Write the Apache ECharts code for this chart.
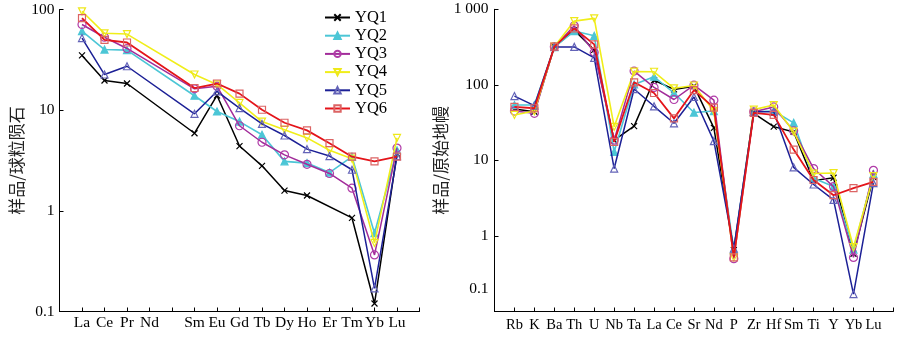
<!DOCTYPE html>
<html><head><meta charset="utf-8">
<script src="https://cdn.jsdelivr.net/npm/echarts@6/dist/echarts.min.js"></script>
<style>html,body{margin:0;padding:0;background:#fff}#c{width:900px;height:361px}</style>
</head><body><div id="c"></div>
<script>
// Left chart: chondrite-normalised REE (blank slots at both ends and for Pm)
const reeCats = ['', 'La','Ce','Pr','Nd',' ','Sm','Eu','Gd','Tb','Dy','Ho','Er','Tm','Yb','Lu','  '];
const reeYQ1 = [null,35,19.7,18.4,null,null,5.9,14.0,4.4,2.8,1.59,1.42,null,0.85,0.12,3.7,null];
const reeYQ2 = [null,61,40,39.5,null,null,13.9,9.7,7.7,5.7,3.1,2.98,2.4,3.45,0.6,4.0,null];
const reeYQ3 = [null,71,53,41,null,null,16.3,17.3,7.0,4.8,3.6,2.9,2.35,1.68,0.365,4.2,null];
const reeYQ4 = [null,96,58,57,null,null,22.6,18.0,11.8,7.7,6.4,5.3,4.0,3.3,0.48,5.3,null];
const reeYQ5 = [null,52,22.6,27.3,null,null,9.2,15.4,10.5,7.3,5.6,4.1,3.5,2.56,0.17,3.5,null];
const reeYQ6 = [null,82,50,47,null,null,16.6,18.4,14.6,10.1,7.5,6.3,4.7,3.45,3.1,3.45,null];

// Right chart: primitive-mantle-normalised spider diagram
const pmCats = ['', 'Rb','K','Ba','Th','U','Nb','Ta','La','Ce','Sr','Nd','P','Zr','Hf','Sm','Ti','Y','Yb','Lu','  '];
const pmYQ1 = [null,48,44,318,530,290,18.5,28.4,115,87,96,27,0.65,42,28,23.8,5.4,5.9,0.58,6.0,null];
const pmYQ2 = [null,54,54,315,515,446,13,101,128,78,43,45,0.65,44,45,31.4,5.8,4.5,0.66,6.6,null];
const pmYQ3 = [null,45,42,320,604,269,18.5,152,92.5,64,99,62.7,0.5,44,51,24.6,7.8,4.5,0.52,7.4,null];
const pmYQ4 = [null,40,45,320,698,758,27.8,150,149,90,98,45,0.52,47,54,24,6.7,6.8,0.71,6.2,null];
const pmYQ5 = [null,71,53,318,318,228,7.8,88,52,31,69,18,0.68,44,44,8.1,4.8,3.0,0.17,5.0,null];
const pmYQ6 = [null,51,49,320,558,343,17.6,108,78,36,85,50,0.52,42.6,40,13.9,5.5,3.46,4.3,5.2,null];

const names = ['YQ1','YQ2','YQ3','YQ4','YQ5','YQ6'];
const leftTicks = ['0.1','1','10','100'];
const rightTicks = ['0.1','1','10','100','1 000'];

const serif = 'Liberation Serif';
const styles = [
  {line:'#000000', symbol:'path://M0,0L10,10M10,0L0,10', fill:'rgba(0,0,0,0)', border:'#000000', size:6, lw:1.5},
  {line:'#4cc6d6', symbol:'triangle', fill:'#4cc6d6', border:'#4cc6d6', size:7, lw:1.6},
  {line:'#a22c9a', symbol:'circle', fill:'rgba(0,0,0,0)', border:'#b03ca8', size:8, lw:1.5},
  {line:'#f0ee1a', symbol:'path://M0,0L10,0L5,10Z', fill:'rgba(0,0,0,0)', border:'#eee81a', size:7, lw:1.6},
  {line:'#1c2096', symbol:'triangle', fill:'rgba(0,0,0,0)', border:'#6464b8', size:7, lw:1.5},
  {line:'#e4141a', symbol:'rect', fill:'rgba(0,0,0,0)', border:'#dc6464', size:7, lw:1.8}
];
const reeData = [reeYQ1,reeYQ2,reeYQ3,reeYQ4,reeYQ5,reeYQ6];
const pmData = [pmYQ1,pmYQ2,pmYQ3,pmYQ4,pmYQ5,pmYQ6];

function mkSeries(data, i, xi, yi) {
  const s = styles[i];
  return {
    name: names[i], type:'line', xAxisIndex:xi, yAxisIndex:yi, data:data,
    connectNulls:true, symbol:s.symbol, symbolSize:s.size, showAllSymbol:true,
    lineStyle:{color:s.line, width:s.lw},
    itemStyle:{color:s.fill, borderColor:s.border, borderWidth:1.2},
    emphasis:{disabled:true}, animation:false, z: 2 + i
  };
}
const series = [];
reeData.forEach((d,i)=>series.push(mkSeries(d,i,0,0)));
pmData.forEach((d,i)=>series.push(mkSeries(d,i,1,1)));

function lbl(size){ return {color:'#000', fontFamily:serif, fontSize:size}; }
function fmtTick(list){
  return function(v){
    for (const t of list){ const n = parseFloat(t.replace(/\s/g,'')); if (Math.abs(v-n) < n*1e-6) return t; }
    return '';
  };
}

const option = {
  backgroundColor:'#fff',
  animation:false,
  legend:{
    data:names, orient:'vertical', left:324, top:9, padding:0, itemWidth:25, itemHeight:8, itemGap:1.2,
    selectedMode:false,
    textStyle:{fontFamily:serif, fontSize:16.5, color:'#000', lineHeight:16}
  },
  grid:[
    {left:59.5, top:9.5, width:360, height:302},
    {left:494.5, top:9.3, width:399, height:302.2}
  ],
  xAxis:[
    {type:'category', gridIndex:0, data:reeCats, boundaryGap:false,
     axisLine:{lineStyle:{color:'#000', width:1}},
     axisTick:{inside:true, length:4, interval:0, lineStyle:{color:'#000'}},
     axisLabel:Object.assign({interval:0, margin:3}, lbl(15.5)),
     splitLine:{show:false}},
    {type:'category', gridIndex:1, data:pmCats, boundaryGap:false,
     axisLine:{lineStyle:{color:'#000', width:1}},
     axisTick:{inside:true, length:4, interval:0, lineStyle:{color:'#000'}},
     axisLabel:Object.assign({interval:0, margin:6}, lbl(14.5)),
     splitLine:{show:false}}
  ],
  yAxis:[
    {type:'log', logBase:10, gridIndex:0, min:0.1, max:100,
     name:'样品/球粒陨石', nameLocation:'middle', nameGap:34,
     nameTextStyle:{fontFamily:'Noto Sans CJK SC', fontSize:17, color:'#222'},
     axisLine:{show:true, lineStyle:{color:'#000', width:1}},
     axisTick:{show:true, inside:true, length:4, lineStyle:{color:'#000'}},
     axisLabel:Object.assign({margin:5, formatter:fmtTick(leftTicks)}, lbl(15.5)),
     splitLine:{show:false}, minorTick:{show:false}},
    {type:'log', logBase:10, gridIndex:1, position:'left', min:0.1, max:1000,
     name:'样品/原始地幔', nameLocation:'middle', nameGap:45,
     nameTextStyle:{fontFamily:'Noto Sans CJK SC', fontSize:17, color:'#222'},
     axisLine:{show:true, lineStyle:{color:'#000', width:1}},
     axisTick:{show:true, inside:true, length:4, lineStyle:{color:'#000'}},
     axisLabel:Object.assign({margin:6, formatter:fmtTick(rightTicks.slice(1))}, lbl(15.5)),
     splitLine:{show:false}, minorTick:{show:false}},
    // label-only axis reproducing the reference's displaced "0.1" label
    {type:'log', logBase:10, gridIndex:1, position:'left', offset:0, min:0.0504, max:507,
     axisLine:{show:false}, axisTick:{show:false}, splitLine:{show:false},
     axisLabel:Object.assign({margin:6, showMinLabel:false, showMaxLabel:false, formatter:fmtTick(rightTicks.slice(0,1))}, lbl(15.5))}
  ],
  series:series
};
const chart = echarts.init(document.getElementById('c'), null, {renderer:'canvas'});
chart.setOption(option);
</script></body></html>
